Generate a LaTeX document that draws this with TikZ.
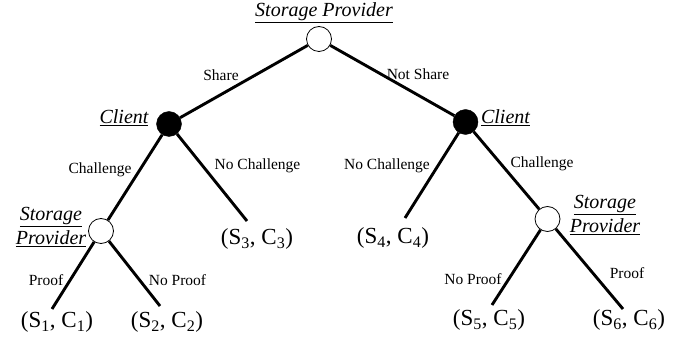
\documentclass[tikz,border=0pt]{standalone}
\usepackage{fontspec}
\setmainfont{Liberation Serif}
\begin{document}
\begin{tikzpicture}[x=1pt,y=-1pt,
  openc/.style={circle,draw,line width=0.8pt,fill=white,minimum size=25pt,inner sep=0pt},
  filledc/.style={circle,draw,fill=black,minimum size=25pt,inner sep=0pt},
  branch/.style={line width=2.9pt},
  elabel/.style={font=\fontsize{15.5}{18}\selectfont,inner sep=0pt},
  plabel/.style={font=\fontsize{20}{24}\selectfont\itshape,inner sep=0pt,align=center},
  leaf/.style={font=\fontsize{23}{26}\selectfont,inner sep=0pt}]
\useasboundingbox (0,0) rectangle (693,344);
% player nodes
\node[openc] (root) at (319,39) {};
\node[filledc] (cl) at (169,124) {};
\node[filledc] (cr) at (465.5,122) {};
\node[openc] (spl) at (101,231) {};
\node[openc] (spr) at (547.5,219) {};
% player labels
\node[plabel] (lroot) at (324,13) {\underline{Storage Provider}};
\node[plabel] (lcl) at (124,118) {\underline{Client}};
\node[plabel] (lcr) at (505.5,118) {\underline{Client}};
\node[plabel] (lspl) at (51,227) {\underline{Storage}\\\underline{Provider}};
\node[plabel] (lspr) at (605,215) {\underline{Storage}\\\underline{Provider}};
% branch ends
\coordinate (e1) at (52,309);
\coordinate (e2) at (160,306);
\coordinate (e3) at (247,221);
\coordinate (e4) at (405,218);
\coordinate (e5) at (492,305);
\coordinate (e6) at (623,309);
% leaves
\node[leaf] (s1) at (57,322) {(S\textsubscript{1}, C\textsubscript{1})};
\node[leaf] (s2) at (167,322) {(S\textsubscript{2}, C\textsubscript{2})};
\node[leaf] (s3) at (257,239) {(S\textsubscript{3}, C\textsubscript{3})};
\node[leaf] (s4) at (393,238) {(S\textsubscript{4}, C\textsubscript{4})};
\node[leaf] (s5) at (489,320) {(S\textsubscript{5}, C\textsubscript{5})};
\node[leaf] (s6) at (629,320) {(S\textsubscript{6}, C\textsubscript{6})};
% branches
\draw[branch] (root) -- (cl);
\draw[branch] (root) -- (cr);
\draw[branch] (cl) -- (spl);
\draw[branch] (cl) -- (e3);
\draw[branch] (cr) -- (e4);
\draw[branch] (cr) -- (spr);
\draw[branch] (spl) -- (e1);
\draw[branch] (spl) -- (e2);
\draw[branch] (spr) -- (e5);
\draw[branch] (spr) -- (e6);
% edge labels
\node[elabel] (a1) at (221,75) {Share};
\node[elabel] (a2) at (418,74) {Not Share};
\node[elabel] (a3) at (100,170) {Challenge};
\node[elabel] (a4) at (257.5,166) {No Challenge};
\node[elabel] (a5) at (387,166) {No Challenge};
\node[elabel] (a6) at (542,164) {Challenge};
\node[elabel] (a7) at (46,280) {Proof};
\node[elabel] (a8) at (177.5,280) {No Proof};
\node[elabel] (a9) at (473,279) {No Proof};
\node[elabel] (a10) at (627,273) {Proof};
\end{tikzpicture}
\end{document}
